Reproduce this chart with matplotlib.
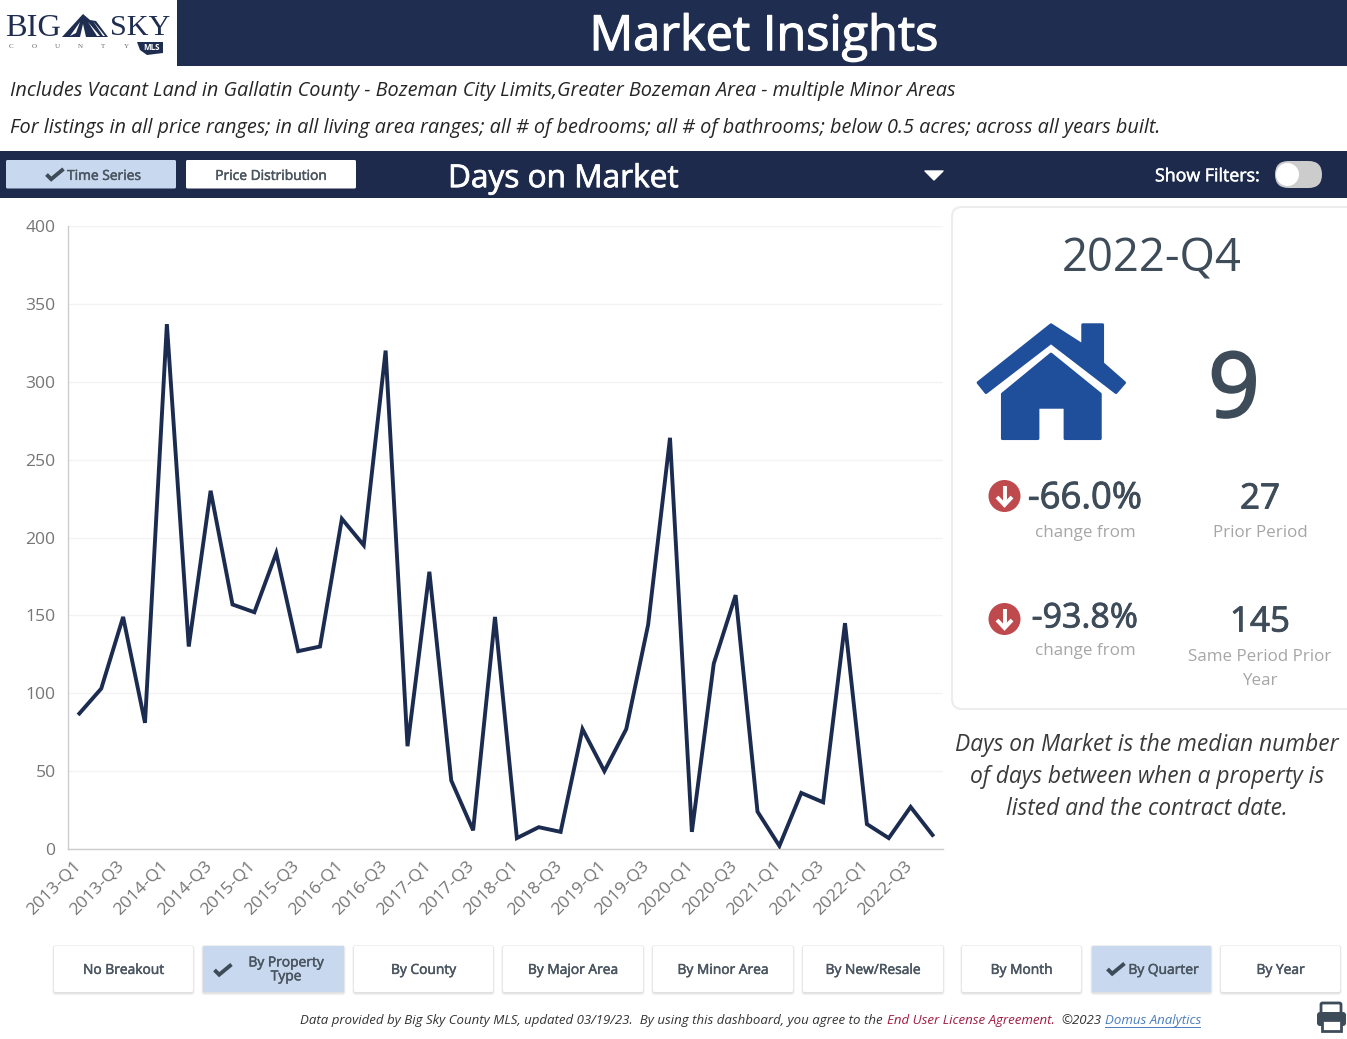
import matplotlib
matplotlib.use("Agg")
import matplotlib.pyplot as plt
import matplotlib.patheffects as pe
from matplotlib.patches import Rectangle, FancyBboxPatch, Polygon, Circle
from matplotlib.transforms import ScaledTranslation

plt.rcParams['font.family'] = ['Open Sans', 'DejaVu Sans']

years = [2013, 2014, 2015, 2016, 2017, 2018, 2019, 2020, 2021, 2022]
quarters = [f"{y}-Q{q}" for y in years for q in (1, 2, 3, 4)]
days_on_market = [87, 103, 149, 81, 337, 130, 230, 157, 152, 190, 127, 130, 212, 195, 320, 66,
                  178, 44, 12, 149, 7, 14, 11, 77, 50, 77, 144, 264, 11, 119, 163, 24,
                  2, 36, 30, 145, 16, 7, 27, 9]
y_ticks = [0, 50, 100, 150, 200, 250, 300, 350, 400]

NAVY = '#1F2D50'
LIGHT = '#C8D8EF'
SLATE = '#3E4C59'
GREY = '#A6A6A6'
BTN = '#4A5560'
W, H = 1347, 1039

fig = plt.figure(figsize=(W / 100, H / 100), dpi=100, facecolor='white')
bg = fig.add_axes([0, 0, 1, 1], zorder=0)
bg.set_xlim(0, W); bg.set_ylim(H, 0); bg.axis('off')


def T(x, y, s, size, color='black', ha='center', semi=False, **kw):
    t = bg.text(x, y + 0.1 * size + 0.5, s, fontsize=size * 0.72, color=color, ha=ha, va='center', **kw)
    if semi:
        t.set_path_effects([pe.withStroke(linewidth=max(0.35, size * 0.018), foreground=color)])
    return t


def rbox(x0, y0, x1, y1, r, fc, ec='none', lw=0, z=1):
    p = FancyBboxPatch((x0 + r, y0 + r), x1 - x0 - 2 * r, y1 - y0 - 2 * r,
                       boxstyle=f"round,pad={r},rounding_size={r}", fc=fc, ec=ec, lw=lw, zorder=z)
    bg.add_patch(p)


def check(x, y, s, color=SLATE, z=4):
    pts = [(-1, 0), (-0.45, 0.55), (1, -0.65)]
    bg.plot([x + s * a for a, b in pts], [y + s * b for a, b in pts], color=color,
            lw=2.8, solid_capstyle='butt', solid_joinstyle='miter', zorder=z)


# Header
bg.add_patch(Rectangle((177, 0), W - 177, 65.5, fc=NAVY, ec='none'))
T(764, 32, 'Market Insights', 48.6, 'white', semi=True)

# Logo
bg.text(5, 28, 'BIG', fontsize=32.5 * 0.72, color=NAVY, ha='left', va='center', family='Liberation Serif')
bg.text(110, 28, 'SKY', fontsize=30 * 0.72, color=NAVY, ha='left', va='center', family='Liberation Serif')
bg.add_patch(Polygon([(62, 37), (83, 14), (90, 20), (96, 21), (108, 37)], fc=NAVY, ec='none'))
for tri in ([(80, 37), (83, 24), (86, 37)],
            [(88, 22), (100, 36), (97, 36)],
            [(93, 21), (105, 36), (103, 36)],
            [(70, 36), (80, 22), (76, 33)]):
    bg.add_patch(Polygon(tri, fc='white', ec='none', zorder=3))
for i, ch in enumerate('COUNTY'):
    bg.text(11 + 23 * i, 46.5, ch, fontsize=5, color='#666666', ha='center', va='center', family='Liberation Serif')
bg.add_patch(Polygon([(137, 42), (163, 42), (163, 53), (147, 55), (140, 50)], fc=NAVY, ec='none'))
bg.text(152, 47.5, 'MLS', fontsize=5.8, color='white', weight='bold', ha='center', va='center')

# Subtitles
T(10, 89, 'Includes Vacant Land in Gallatin County - Bozeman City Limits,Greater Bozeman Area - multiple Minor Areas',
  19.9, '#262626', ha='left', style='italic')
T(10, 126, 'For listings in all price ranges; in all living area ranges; all # of bedrooms; all # of bathrooms; below 0.5 acres; across all years built.',
  19.9, '#262626', ha='left', style='italic')

# Control band
bg.add_patch(Rectangle((0, 151), W, 46.5, fc='#1D2A4B', ec='none'))
rbox(6, 160, 176, 188.5, 1.5, LIGHT)
rbox(186, 160, 356, 188.5, 1.5, 'white')
check(55, 174.5, 8.5)
T(104, 174.5, 'Time Series', 13.8, BTN, semi=True)
T(271, 174.5, 'Price Distribution', 13.8, BTN, semi=True)
T(448, 175, 'Days on Market', 31.6, 'white', ha='left', semi=True)
bg.add_patch(Polygon([(925, 171), (943, 171), (934, 180)], fc='white', ec='white', lw=1, joinstyle='round', zorder=3))
T(1155, 174, 'Show Filters:', 17.8, 'white', ha='left', semi=True)
rbox(1275, 161, 1322, 188, 13.5, '#CCCCCC', z=2)
bg.add_patch(Circle((1287.5, 174.5), 11.5, fc='white', ec='none', zorder=3))

# Right card
rbox(952, 207, 1370, 709, 10, 'white', ec='#EDEDED', lw=1.5)
T(1152, 254, '2022-Q4', 45.5, SLATE)
HB = '#1F4E9A'
roof = [(84, 548), (303, 374), (398, 435), (398, 374), (458, 374), (458, 490), (524, 548), (498, 578), (303, 428), (108, 578)]
body = [(157, 582), (303, 462), (451, 582), (451, 716), (345, 716), (345, 622), (264, 622), (264, 716), (157, 716)]
for shape in (roof, body):
    bg.add_patch(Polygon([(950 + a / 3, 200 + b / 3) for a, b in shape], fc=HB, ec=HB, lw=2, joinstyle='round', zorder=3))
T(1234, 384, '9', 90, SLATE, semi=True)

RED = '#BF4A4E'
for cy in (496, 619):
    bg.add_patch(Circle((1004.5, cy), 16, fc=RED, ec='none', zorder=3))
    bg.plot([1004.5, 1004.5], [cy - 10, cy + 8], color='white', lw=2.8, zorder=4, solid_capstyle='butt')
    bg.plot([997, 1004.5, 1012], [cy + 1, cy + 9, cy + 1], color='white', lw=2.8, zorder=4, solid_joinstyle='miter', solid_capstyle='butt')
T(1085, 495, '-66.0%', 36.5, SLATE, semi=True)
T(1085, 531, 'change from', 17, GREY)
T(1085, 614.5, '-93.8%', 34, SLATE, semi=True)
T(1085, 649, 'change from', 17, GREY)
T(1260, 495.5, '27', 35, SLATE, semi=True)
T(1260, 531, 'Prior Period', 17, GREY)
T(1260, 618.5, '145', 35, SLATE, semi=True)
T(1260, 655, 'Same Period Prior', 17, GREY)
T(1260, 679, 'Year', 17, GREY)

for yy, s in zip((742, 774, 806), ('Days on Market is the median number',
                                   'of days between when a property is',
                                   'listed and the contract date.')):
    T(1147, yy, s, 22.7, '#3A3A3A', style='italic')

# Bottom buttons
buttons = [(54, 193, 'No Breakout', 0), (203, 344, 'By Property\nType', 1), (354, 493, 'By County', 0),
           (503, 643, 'By Major Area', 0), (653, 793, 'By Minor Area', 0), (803, 943, 'By New/Resale', 0),
           (962, 1081, 'By Month', 0), (1092, 1211, 'By Quarter', 1), (1221, 1340, 'By Year', 0)]
for x0, x1, label, active in buttons:
    rbox(x0 - 1.5, 945, x1 + 1.5, 995, 3, '#F0F0F0', z=1)
    rbox(x0 - 0.5, 946, x1 + 0.5, 993.5, 2, '#E0E0E0', z=1)
    rbox(x0, 946, x1, 992, 1.5, LIGHT if active else 'white', z=2)
    if label == 'By Quarter':
        T(1163.5, 968.5, label, 13.8, BTN, semi=True, zorder=4)
        check(1116, 969, 8.5)
    elif active:
        T(286, 968, label, 13.8, BTN, semi=True, zorder=4, linespacing=0.9)
        check(223, 970, 8.5)
    else:
        T((x0 + x1) / 2, 968.5, label, 13.8, BTN, semi=True, zorder=4)

# Footer
T(300, 1019, 'Data provided by Big Sky County MLS, updated 03/19/23.  By using this dashboard, you agree to the',
  13.2, '#333333', ha='left', style='italic')
T(887, 1019, 'End User License Agreement.', 13.2, '#A01C40', ha='left', style='italic')
T(1061, 1019, '©2023', 13.2, '#333333', ha='left', style='italic')
T(1105, 1019, 'Domus Analytics', 13.2, '#4A7CC0', ha='left', style='italic')
bg.plot([1105, 1200], [1027, 1027], color='#4A7CC0', lw=0.7)

# Printer
PR = '#3E4C59'
rbox(1321, 1003, 1341, 1017, 1.5, 'white', ec=PR, lw=2, z=3)
rbox(1317, 1012, 1346, 1026, 3, PR, z=4)
bg.add_patch(Rectangle((1322, 1020), 19, 11, fc='white', ec=PR, lw=2, zorder=5))

# Chart
ax = fig.add_axes([68 / W, 1 - 849 / H, 875 / W, (849 - 226) / H], zorder=2)
ax.patch.set_alpha(0)
ax.plot(range(len(quarters)), days_on_market, color='#1C2B50', lw=2.8, solid_joinstyle='miter', zorder=3)
ax.set_xlim(-0.52, len(quarters) - 0.52)
ax.set_ylim(0, 400)
ax.set_yticks(y_ticks)
ax.set_xticks(range(0, len(quarters), 2))
ax.set_xticklabels(quarters[::2], rotation=45, ha='right', va='top', rotation_mode='anchor')
ax.tick_params(axis='both', length=0, labelsize=17.5 * 0.72, labelcolor='#767676')
ax.tick_params(axis='x', pad=6.5)
ax.tick_params(axis='y', pad=9)
shift = ScaledTranslation(-5 / 72, 0, fig.dpi_scale_trans)
for lab in ax.get_xticklabels():
    lab.set_transform(lab.get_transform() + shift)
ax.grid(axis='y', color='#F3F3F3', lw=1)
ax.set_axisbelow(True)
for s in ('top', 'right'):
    ax.spines[s].set_visible(False)
for s in ('left', 'bottom'):
    ax.spines[s].set_color('#CCCCCC')
    ax.spines[s].set_linewidth(1)

fig.savefig('out.png', dpi=100)
